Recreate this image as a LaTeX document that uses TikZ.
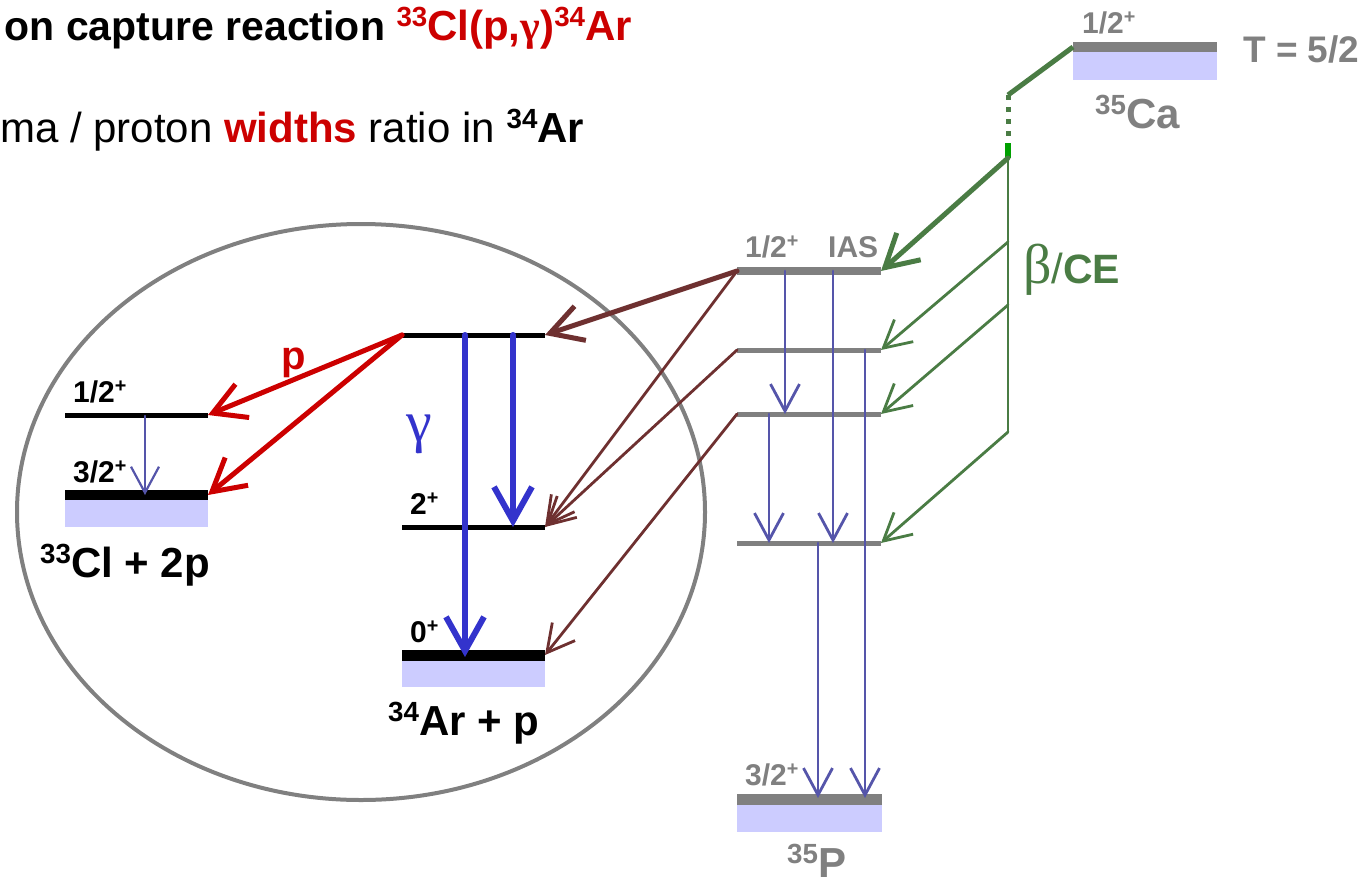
\documentclass[tikz,border=0pt]{standalone}
\usepackage{fontspec}
\setmainfont{Liberation Sans}
\newfontfamily\grk{Liberation Serif}
\usepackage{graphicx}
\usetikzlibrary{arrows.meta}
\definecolor{cred}{HTML}{CC0000}
\definecolor{cgrey}{HTML}{808080}
\definecolor{cgreen}{HTML}{4A7C44}
\definecolor{cbright}{HTML}{00A000}
\definecolor{cblue}{HTML}{3333CC}
\definecolor{cslate}{HTML}{5555AA}
\definecolor{cbrown}{HTML}{6E3030}
\definecolor{clav}{HTML}{CCCCFF}
\newcommand\upsc[1]{\raisebox{0.32em}{\scalebox{0.66}{#1}}}
\newcommand\fsz[1]{\fontsize{#1}{#1}\selectfont}
\tikzset{
  txt/.style={inner sep=0pt, anchor=base west, font=\bfseries},
  lbl/.style={txt, font=\fsz{30}\bfseries},
  big/.style={txt, font=\fsz{42}\bfseries},
  tipv/.style 2 args={-{Straight Barb[length=#1pt,width=#2pt]}},
  thinarr/.style={line width=2.8pt, line cap=round, line join=round, tipv={27}{29}},
  thickarr/.style={line width=5pt, line cap=round, line join=round, tipv={32}{36}},
  lav/.style={fill=clav, draw=none},
}
\begin{document}
\begin{tikzpicture}[x=1pt,y=-1pt]
\useasboundingbox (0,0) rectangle (1364,878);

% ---------- title texts ----------
\node[inner sep=0pt, anchor=base east, font=\fsz{41}\bfseries] (t1) at (632,40)
  {on capture reaction {\fsz{42}\color{cred}\upsc{33}Cl(p,{\grk γ})\upsc{34}Ar}};
\node[inner sep=0pt, anchor=base west, font=\fsz{42}] (t2) at (0,142)
  {ma / proton \textcolor{cred}{\bfseries widths} ratio in \textbf{\upsc{34}Ar}};

% ---------- ellipse ----------
\draw[cgrey, line width=4pt] (361,512) ellipse [x radius=344pt, y radius=288pt];

% ---------- 35Ca ----------
\fill[lav] (1073,52) rectangle (1217,80);
\coordinate (caL) at (1073,47);
\coordinate (caR) at (1217,47);
\draw[cgrey, line width=10pt] (caL) -- (caR);
\node[lbl, text=cgrey] (calbl) at (1082,33) {1/2\upsc{+}};
\node[txt, font=\fsz{37}\bfseries, text=cgrey] (tlbl) at (1243,62) {T = 5/2};
\node[big, text=cgrey] (calab) at (1095,128) {\upsc{35}Ca};

% ---------- 35Ar levels ----------
\coordinate (iasL) at (737,271); \coordinate (iasR) at (881,271);
\coordinate (l2L) at (737,350);  \coordinate (l2R) at (881,350);
\coordinate (l3L) at (737,414);  \coordinate (l3R) at (881,414);
\coordinate (l4L) at (737,543);  \coordinate (l4R) at (881,543);
\draw[cgrey, line width=8pt] (iasL) -- (iasR);
\draw[cgrey, line width=5pt] (l2L) -- (l2R);
\draw[cgrey, line width=5pt] (l3L) -- (l3R);
\draw[cgrey, line width=5pt] (l4L) -- (l4R);
\node[lbl, text=cgrey] (iaslbl) at (745,257) {1/2\upsc{+}};
\node[lbl, text=cgrey] (iasname) at (828,257) {IAS};

% ---------- 35P ----------
\fill[lav] (737,804) rectangle (882,832);
\coordinate (pL) at (737,799); \coordinate (pR) at (882,799);
\draw[cgrey, line width=11pt] (pL) -- (pR);
\node[lbl, text=cgrey] (plbl) at (745,785) {3/2\upsc{+}};
\node[big, text=cgrey] (pname) at (787,877) {\upsc{35}P};

% ---------- green beta/CE ----------
\coordinate (g1) at (1008,95);
\coordinate (g2) at (1008,143);
\coordinate (g3) at (1008,158);
\coordinate (g4) at (1008,242);
\coordinate (g5) at (1008,305);
\coordinate (g6) at (1008,432);
\draw[cgreen, line width=5pt] (caL) -- (g1);
\draw[cgreen, line width=5pt, dash pattern=on 5pt off 7pt] (g1) -- (g2);
\draw[cbright, line width=6pt] (g2) -- (g3);
\draw[cgreen, line width=2.8pt] (g3) -- (g6);
\draw[cgreen, thickarr] (g3) -- (iasR);
\draw[cgreen, thinarr] (g4) -- (l2R);
\draw[cgreen, thinarr] (g5) -- (l3R);
\draw[cgreen, thinarr] (g6) -- (l4R);
\node[inner sep=0pt, anchor=base west, text=cgreen] (betace) at (1023,283)
  {{\grk\fsz{56}β}{\fsz{42}/}{\fsz{41}\bfseries CE}};

% ---------- 35Ar gamma transitions ----------
\coordinate (a1s) at (785,271); \coordinate (a1e) at (785,414);
\coordinate (a2s) at (833,271); \coordinate (a2e) at (833,543);
\coordinate (a3s) at (865,350); \coordinate (a3e) at (865,798);
\coordinate (a4s) at (769,414); \coordinate (a4e) at (769,543);
\coordinate (a5s) at (818,543); \coordinate (a5e) at (818,798);
\draw[cslate, thinarr] (a1s) -- (a1e);
\draw[cslate, thinarr] (a2s) -- (a2e);
\draw[cslate, thinarr] (a3s) -- (a3e);
\draw[cslate, thinarr] (a4s) -- (a4e);
\draw[cslate, thinarr] (a5s) -- (a5e);

% ---------- 34Ar levels ----------
\fill[lav] (402,660) rectangle (545,687);
\coordinate (arTL) at (402,335); \coordinate (arTR) at (545,335);
\coordinate (ar2L) at (402,527); \coordinate (ar2R) at (545,527);
\coordinate (ar0L) at (402,655); \coordinate (ar0R) at (545,655);
\draw[black, line width=5pt] (arTL) -- (arTR);
\draw[black, line width=5pt] (ar2L) -- (ar2R);
\draw[black, line width=11pt] (ar0L) -- (ar0R);
\node[lbl] (ar2lbl) at (410,514) {2\upsc{+}};
\node[lbl] (ar0lbl) at (410,642) {0\upsc{+}};
\node[big] (arname) at (388,735) {\upsc{34}Ar + p};
\node[inner sep=0pt, anchor=base west, text=cblue, font=\grk\fsz{58}] (gam) at (406,441) {γ};

\coordinate (b1s) at (465,335); \coordinate (b1e) at (465,657);
\coordinate (b2s) at (513,335); \coordinate (b2e) at (513,527);
\draw[cblue, line width=6pt, line cap=round, line join=round, tipv={34}{38}] (b1s) -- (b1e);
\draw[cblue, line width=6pt, line cap=round, line join=round, tipv={34}{38}] (b2s) -- (b2e);

% ---------- brown arrows ----------
\draw[cbrown, thickarr] (iasL) -- (arTR);
\draw[cbrown, thinarr] (iasL) -- (ar2R);
\draw[cbrown, thinarr] (l2L) -- (ar2R);
\draw[cbrown, thinarr] (l3L) -- (ar0R);

% ---------- 33Cl levels ----------
\fill[lav] (65,500) rectangle (208,527);
\coordinate (clHL) at (65,415); \coordinate (clHR) at (208,415);
\coordinate (clGL) at (65,495); \coordinate (clGR) at (208,495);
\draw[black, line width=5pt] (clHL) -- (clHR);
\draw[black, line width=10pt] (clGL) -- (clGR);
\node[lbl] (clh) at (73,402) {1/2\upsc{+}};
\node[lbl] (clg) at (73,482) {3/2\upsc{+}};
\node[big] (clname) at (40,577) {\upsc{33}Cl + 2p};
\coordinate (c1s) at (145,416); \coordinate (c1e) at (145,495);
\draw[cslate, line width=2.2pt, line cap=round, line join=round, tipv={26}{28}] (c1s) -- (c1e);

% ---------- red proton arrows ----------
\draw[cred, thickarr] (arTL) -- (clHR);
\draw[cred, thickarr] (arTL) -- (clGR);
\node[inner sep=0pt, anchor=base west, text=cred, font=\fsz{40}\bfseries] (plab) at (281,369) {p};
\end{tikzpicture}
\end{document}
